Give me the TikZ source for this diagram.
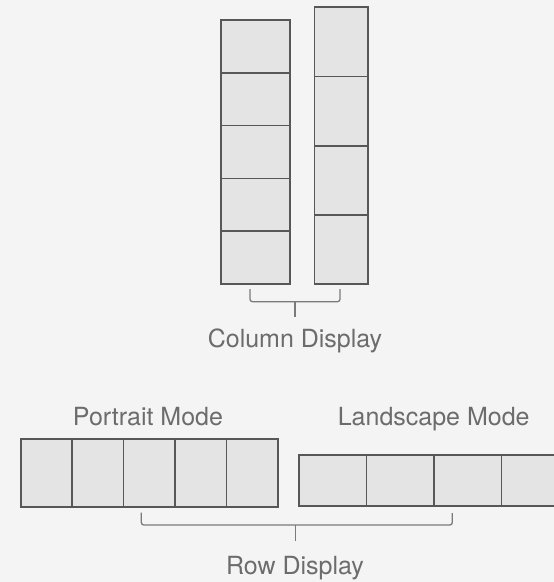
\documentclass[tikz,border=0pt]{standalone}
\usepackage{fontspec}
\setmainfont{TeX Gyre Heros}
\begin{document}
\begin{tikzpicture}[x=1pt,y=-1pt,
  cell/.style={draw=cellline, fill=cellfill, line width=1.7pt, rectangle, inner sep=0pt, outer sep=0pt},
  lbl/.style={text=txtcol, inner sep=0pt, anchor=base, font=\fontsize{25}{29}\selectfont},
  brk/.style={draw=brkcol, line width=1.3pt, rounded corners=2.5pt}]
\definecolor{bgcol}{HTML}{F4F4F4}
\definecolor{cellfill}{HTML}{E4E4E4}
\definecolor{cellline}{HTML}{575757}
\definecolor{txtcol}{HTML}{6C6C6C}
\definecolor{brkcol}{HTML}{7A7A7A}
\useasboundingbox (0,0) rectangle (554,582);
\fill[bgcol] (0,0) rectangle (554,582);
\clip (0,0) rectangle (554,582);
% left column: 5 cells
\foreach \i in {0,...,4} {
  \node[cell, minimum width=69.6pt, minimum height=52.8pt] (lc\i) at (255.5, {20+26.4+52.8*\i}) {};
}
% right column: 4 cells
\foreach \i in {0,...,3} {
  \node[cell, minimum width=53.7pt, minimum height=69.2pt] (rc\i) at (341.2, {7.3+34.6+69.2*\i}) {};
}
% portrait row: 5 cells
\foreach \i in {0,...,4} {
  \node[cell, minimum width=51.46pt, minimum height=68.3pt] (pr\i) at ({20.7+25.73+51.46*\i}, 473.15) {};
}
% landscape row: 4 cells
\foreach \i in {0,...,3} {
  \node[cell, minimum width=67.5pt, minimum height=51pt] (ls\i) at ({299+33.75+67.5*\i}, 480.5) {};
}
% column bracket
\coordinate (cbl) at (250,289);
\coordinate (cbr) at (340,289);
\coordinate (cbm) at (295,301.7);
\coordinate (cbb) at (295,317);
\draw[brk] (cbl) |- (cbm) -| (cbr);
\draw[brk] (cbm) -- (cbb);
% row bracket
\coordinate (rbl) at (141.3,512.7);
\coordinate (rbr) at (452.3,513);
\coordinate (rbm) at (295.7,525);
\coordinate (rbb) at (295.7,540.7);
\draw[brk] (rbl) |- (rbm) -| (rbr);
\draw[brk] (rbm) -- (rbb);
% labels
\node[lbl] (coldisp) at (295,347) {Column Display};
\node[lbl] (portrait) at (148,425.7) {Portrait Mode};
\node[lbl] (landscape) at (433.7,425.7) {Landscape Mode};
\node[lbl] (rowdisp) at (295,574) {Row Display};
\end{tikzpicture}
\end{document}
